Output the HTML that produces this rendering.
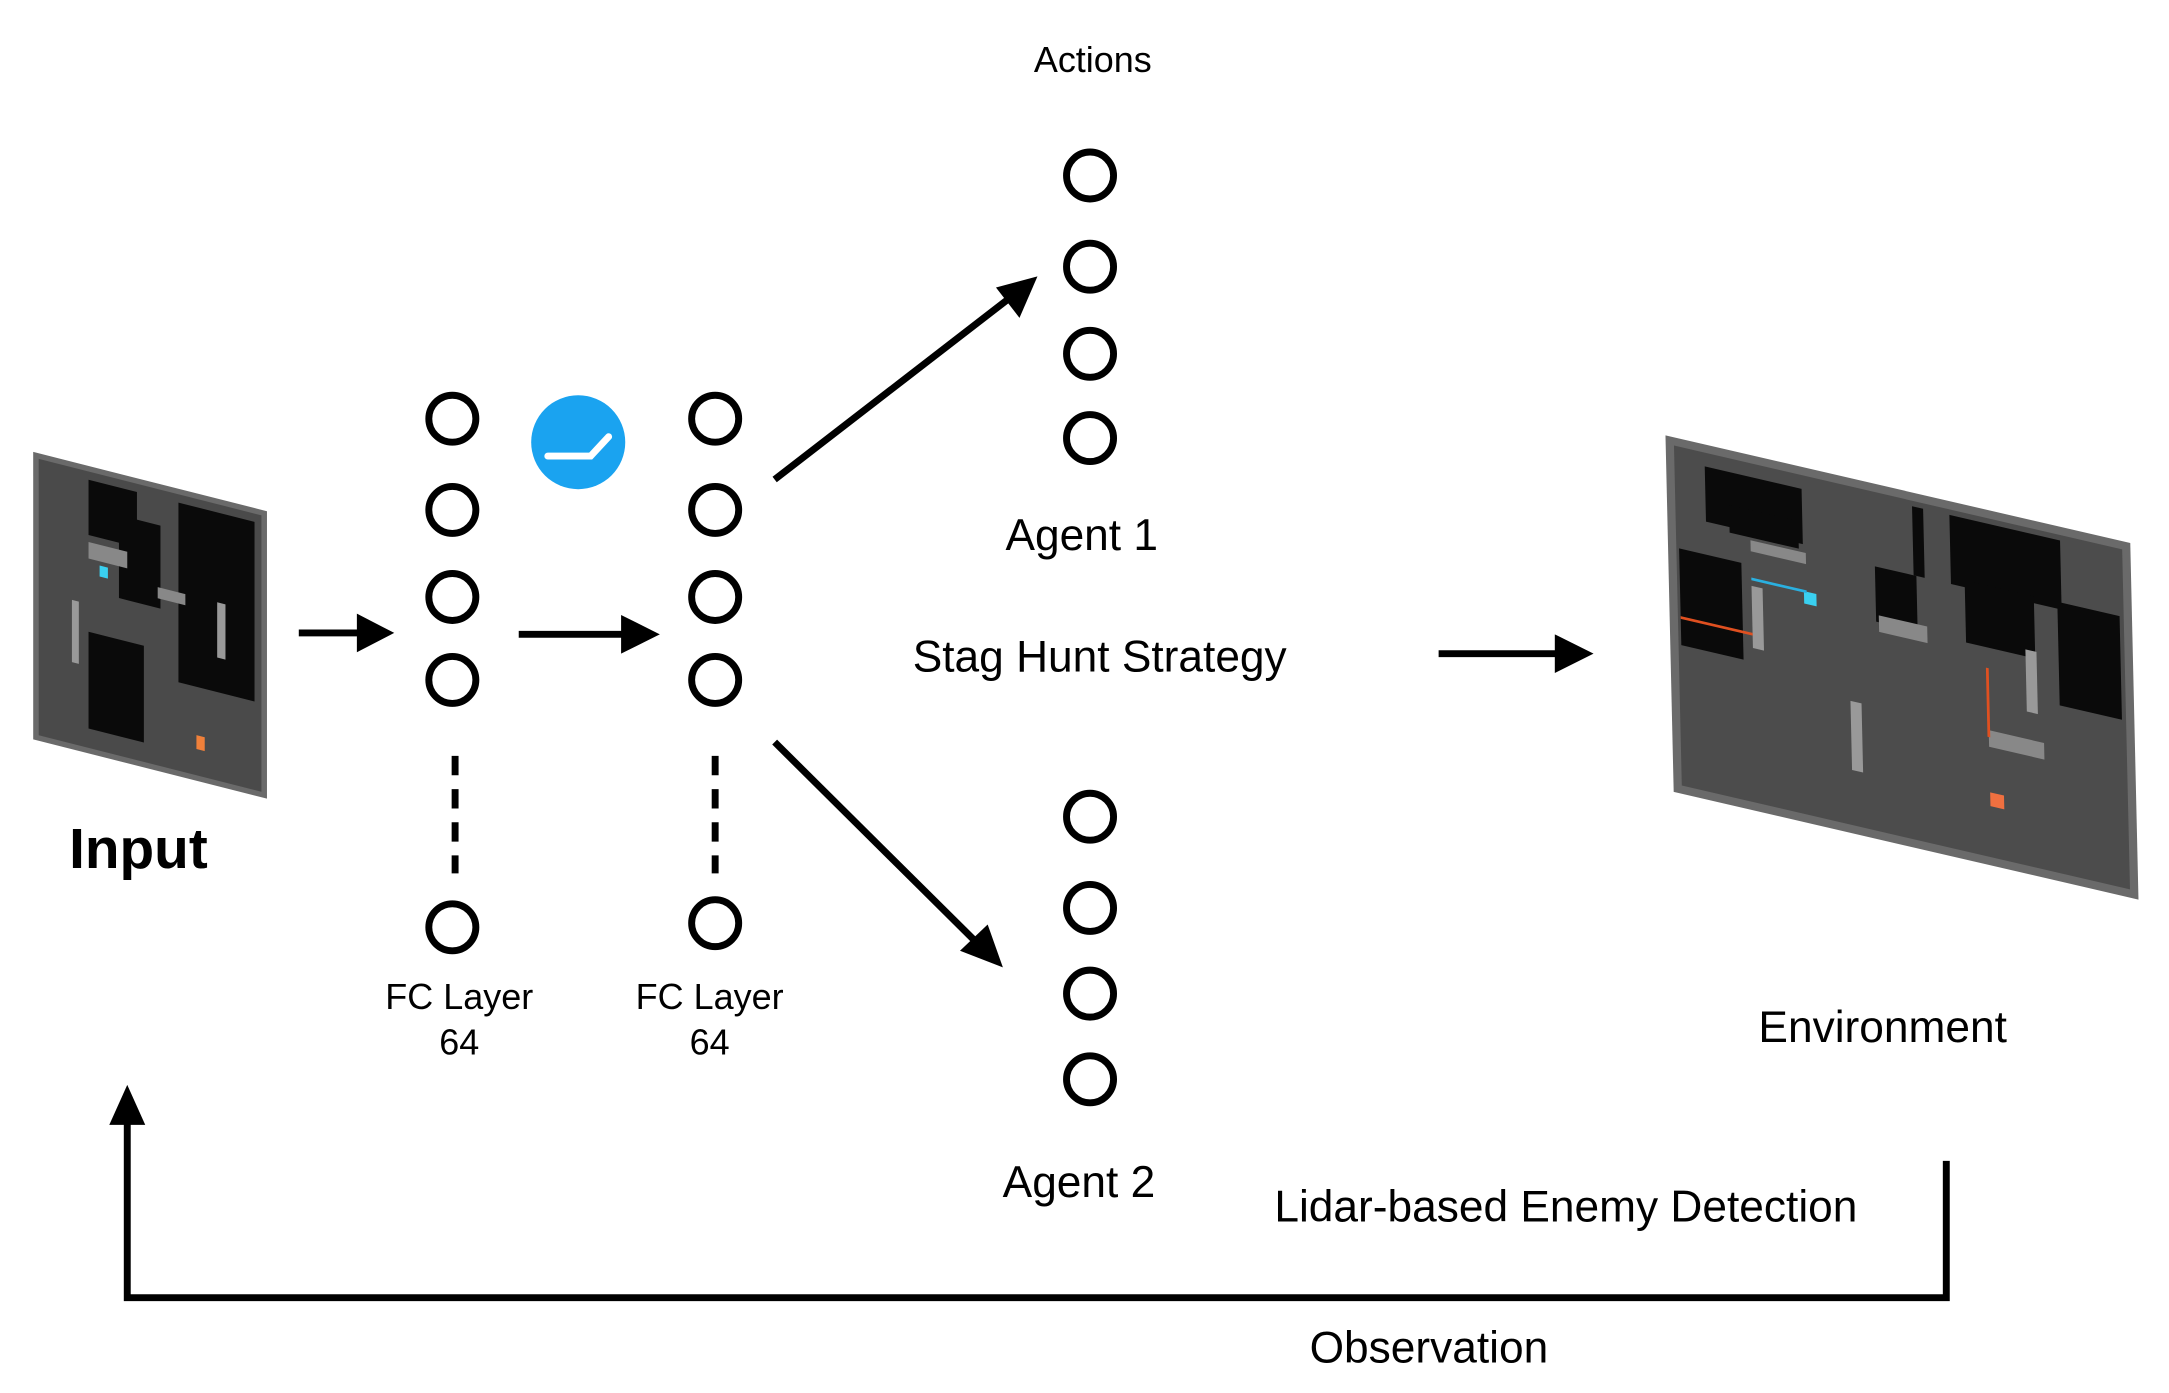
<!DOCTYPE html>
<html><head><meta charset="utf-8"><style>
html,body{margin:0;padding:0;background:#fff;}
svg{display:block;}
text{font-family:"Liberation Sans",sans-serif;fill:#000;}
</style></head><body>
<svg width="2169" height="1393" viewBox="0 0 1568 1008" preserveAspectRatio="none" xmlns="http://www.w3.org/2000/svg">
<!-- Input image -->
<g transform="matrix(1,0.254,0,1,24,327)">
<rect x="0" y="0" width="169" height="208" fill="#6a6a6a"/>
<rect x="4" y="4" width="161" height="200" fill="#4a4a4a"/>
<rect x="40" y="10" width="35" height="40" fill="#0a0a0a"/>
<rect x="62" y="30" width="30" height="60" fill="#0a0a0a"/>
<rect x="105" y="10" width="55" height="130" fill="#0a0a0a"/>
<rect x="40" y="120" width="40" height="70" fill="#0a0a0a"/>
<rect x="40" y="55" width="28" height="12" fill="#888"/>
<rect x="90" y="75" width="20" height="8" fill="#888"/>
<rect x="133" y="75" width="6" height="40" fill="#999"/>
<rect x="28" y="100" width="5" height="45" fill="#999"/>
<rect x="48" y="70" width="6" height="8" fill="#3ad0f0"/>
<rect x="118" y="175" width="6" height="10" fill="#f0803a"/>
</g>
<text x="50" y="628" font-size="41" font-weight="bold">Input</text>
<!-- arrows -->
<g stroke="#000" stroke-width="5" fill="none">
<line x1="216" y1="458" x2="262" y2="458"/>
<line x1="375" y1="459" x2="452" y2="459"/>
<line x1="560" y1="347" x2="732" y2="214"/>
<line x1="560" y1="537" x2="708" y2="684"/>
<line x1="1040" y1="473" x2="1128" y2="473"/>
<polyline points="1407,840 1407,939 92,939 92,810"/>
<line x1="329" y1="547" x2="329" y2="632" stroke-dasharray="14,10"/>
<line x1="517" y1="547" x2="517" y2="632" stroke-dasharray="14,10"/>
</g>
<g fill="#000">
<polygon points="285,458 258,444 258,472"/>
<polygon points="477,459 449,445 449,473"/>
<polygon points="750,200 720,208 737,230"/>
<polygon points="725,700 694,688 714,669"/>
<polygon points="1152,473 1124,459 1124,487"/>
<polygon points="92,785 79,814 105,814"/>
</g>
<!-- nodes -->
<g fill="none" stroke="#000" stroke-width="5">
<circle cx="327" cy="303" r="17"/><circle cx="327" cy="369" r="17"/><circle cx="327" cy="432" r="17"/><circle cx="327" cy="492" r="17"/><circle cx="327" cy="671" r="17"/>
<circle cx="517" cy="303" r="17"/><circle cx="517" cy="369" r="17"/><circle cx="517" cy="432" r="17"/><circle cx="517" cy="492" r="17"/><circle cx="517" cy="668" r="17"/>
<circle cx="788" cy="127" r="17"/><circle cx="788" cy="193" r="17"/><circle cx="788" cy="256" r="17"/><circle cx="788" cy="317" r="17"/>
<circle cx="788" cy="591" r="17"/><circle cx="788" cy="657" r="17"/><circle cx="788" cy="719" r="17"/><circle cx="788" cy="781" r="17"/>
</g>
<circle cx="418" cy="320" r="34" fill="#1aa3f0"/>
<polyline points="396,330 427,330 440,316" fill="none" stroke="#fff" stroke-width="5" stroke-linecap="round"/>
<!-- labels -->
<g font-size="26" text-anchor="middle">
<text x="332" y="730">FC Layer</text><text x="332" y="763">64</text>
<text x="513" y="730">FC Layer</text><text x="513" y="763">64</text>
<text x="790" y="52">Actions</text>
</g>
<g font-size="32" text-anchor="middle">
<text x="782" y="398">Agent 1</text>
<text x="795" y="486">Stag Hunt Strategy</text>
<text x="780" y="866">Agent 2</text>
<text x="1361" y="754">Environment</text>
<text x="1132" y="884">Lidar-based Enemy Detection</text>
<text x="1033" y="986">Observation</text>
</g>
<!-- Environment image -->
<g transform="matrix(1,0.232,0.023,1,1204,315)">
<rect x="0" y="0" width="336" height="258" fill="#6a6a6a"/>
<rect x="6" y="6" width="324" height="246" fill="#4c4c4c"/>
<rect x="28" y="16" width="70" height="40" fill="#0a0a0a"/>
<rect x="45" y="40" width="50" height="20" fill="#0a0a0a"/>
<rect x="60" y="62" width="40" height="8" fill="#888"/>
<rect x="8" y="80" width="45" height="70" fill="#0a0a0a"/>
<rect x="178" y="10" width="8" height="50" fill="#0a0a0a"/>
<rect x="205" y="10" width="80" height="50" fill="#0a0a0a"/>
<rect x="215" y="55" width="50" height="45" fill="#0a0a0a"/>
<rect x="150" y="60" width="30" height="40" fill="#0a0a0a"/>
<rect x="282" y="55" width="45" height="75" fill="#0a0a0a"/>
<rect x="60" y="95" width="8" height="45" fill="#999"/>
<rect x="152" y="95" width="35" height="12" fill="#888"/>
<rect x="258" y="95" width="8" height="45" fill="#999"/>
<rect x="130" y="162" width="8" height="50" fill="#999"/>
<rect x="230" y="160" width="40" height="12" fill="#888"/>
<rect x="98" y="90" width="9" height="9" fill="#3ad0f0"/>
<rect x="230" y="205" width="10" height="10" fill="#f07040"/>
<line x1="8" y1="130" x2="60" y2="130" stroke="#e05020" stroke-width="2"/>
<line x1="230" y1="115" x2="230" y2="165" stroke="#e05020" stroke-width="2"/>
<line x1="60" y1="90" x2="100" y2="90" stroke="#2ab0e0" stroke-width="2"/>
</g>
</svg>
</body></html>
